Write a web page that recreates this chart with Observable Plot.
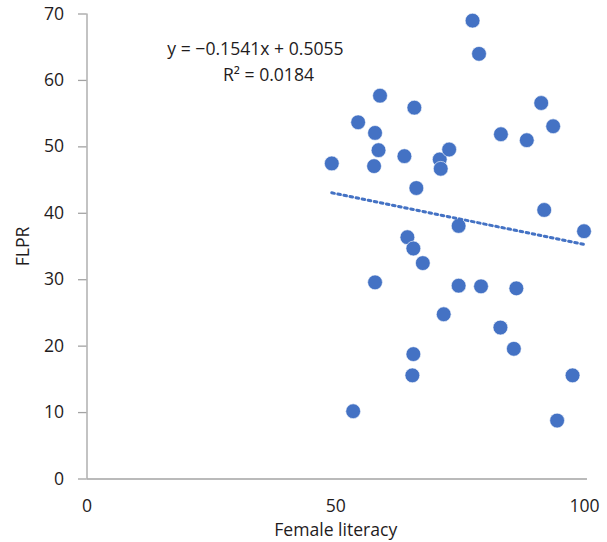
<!DOCTYPE html>
<html><head><meta charset="utf-8">
<script src="https://cdn.jsdelivr.net/npm/d3@7"></script>
<script src="https://cdn.jsdelivr.net/npm/@observablehq/plot@0.6"></script>
<style>html,body{margin:0;padding:0;background:#fff} #chart svg{display:block}</style>
</head><body><div id="chart"></div>
<script>
// Female literacy (%) per point
const femaleLiteracy = [77.5, 78.8, 58.9, 65.8, 54.5, 57.9, 58.6, 57.7, 49.2, 63.8, 70.9, 71.1, 72.8, 66.2, 83.2, 88.4, 91.3, 93.7, 91.9, 99.9, 74.7, 64.4, 65.6, 67.5, 57.9, 74.7, 79.2, 86.3, 71.7, 83.1, 85.8, 65.6, 65.4, 97.6, 53.5, 94.5];
// FLPR (%) per point
const flpr = [69.0, 64.0, 57.7, 55.9, 53.7, 52.1, 49.5, 47.1, 47.5, 48.6, 48.1, 46.7, 49.6, 43.8, 51.9, 51.0, 56.6, 53.1, 40.5, 37.3, 38.1, 36.4, 34.7, 32.5, 29.6, 29.1, 29.0, 28.7, 24.8, 22.8, 19.6, 18.8, 15.6, 15.6, 10.2, 8.8];
const xTicks = [0, 50, 100];
const yTicks = [0, 10, 20, 30, 40, 50, 60, 70];
const xLabel = ["Female literacy"];
const yLabel = ["FLPR"];
const equationLine = ["y = \u22120.1541x + 0.5055"];
const rSquaredLine = ["R\u00b2 = 0.0184"];

const points = femaleLiteracy.map((x, i) => ({x, y: flpr[i]}));
const blue = "#4472C4";
const axisGray = "#a3a3a3";
const ink = "#1f1c1d";
const fs = 17.6;

const chart = Plot.plot({
  width: 607,
  height: 542,
  marginLeft: 86.5,
  marginRight: 23,
  marginTop: 13.5,
  marginBottom: 63.5,
  style: {fontFamily: "'Open Sans', sans-serif", fontSize: fs + "px", color: ink, background: "#fff"},
  x: {domain: [0, 100]},
  y: {domain: [0, 70]},
  marks: [
    Plot.ruleY([0], {x1: 0, x2: 100.6, stroke: axisGray, strokeWidth: 1.3}),
    Plot.ruleX([0], {y1: 0, y2: 70, stroke: axisGray, strokeWidth: 1.3}),
    Plot.axisY({ticks: yTicks, tickSize: 8.5, tickPadding: 14.5, stroke: axisGray, strokeWidth: 1.3, color: ink, label: null, fontSize: fs}),
    Plot.axisX({ticks: xTicks, tickSize: 0, tickPadding: 20, color: ink, label: null, fontSize: fs}),
    Plot.text(yLabel, {frameAnchor: "left", rotate: -90, dx: -64, textAnchor: "middle", lineAnchor: "middle", fill: ink, fontSize: fs}),
    Plot.text(xLabel, {frameAnchor: "bottom", dy: 51.5, textAnchor: "middle", lineAnchor: "middle", fill: ink, fontSize: fs}),
    Plot.dot(points, {x: "x", y: "y", r: 7.4, fill: blue, stroke: "#ffffff", strokeWidth: 0.6}),
    Plot.linearRegressionY(points, {x: "x", y: "y", ci: 0, stroke: blue, strokeWidth: 3, strokeDasharray: "2.6,3.6"}),
    Plot.text(equationLine, {frameAnchor: "top-left", dx: 168.5, dy: 35.5, textAnchor: "middle", lineAnchor: "middle", fill: ink, fontSize: fs}),
    Plot.text(rSquaredLine, {frameAnchor: "top-left", dx: 181.5, dy: 61.5, textAnchor: "middle", lineAnchor: "middle", fill: ink, fontSize: fs})
  ]
});
document.getElementById("chart").append(chart);
</script>
</body></html>
